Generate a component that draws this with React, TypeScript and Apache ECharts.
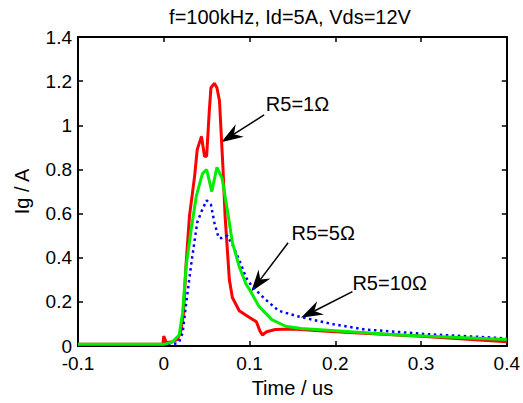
import React, { useEffect, useRef } from "react";
import * as echarts from "echarts";

// Time (us) vs Ig (A)
const seriesR1: [number, number][] = [
  [-0.1, 0.008], [-0.001, 0.008], [0.0, 0.045], [0.003, 0.015], [0.01, 0.02],
  [0.016, 0.03], [0.02, 0.07], [0.023, 0.15], [0.026, 0.37], [0.03, 0.59],
  [0.036, 0.77], [0.039, 0.89], [0.044, 0.95], [0.0475, 0.86], [0.05, 0.86],
  [0.053, 1.06], [0.055, 1.17], [0.059, 1.19], [0.062, 1.17], [0.065, 1.11],
  [0.067, 0.96], [0.069, 0.81], [0.0715, 0.59], [0.0765, 0.3], [0.08, 0.22],
  [0.088, 0.16], [0.1, 0.13], [0.108, 0.11], [0.112, 0.07], [0.115, 0.05],
  [0.12, 0.065], [0.13, 0.075], [0.15, 0.078], [0.2, 0.065], [0.3, 0.045],
  [0.4, 0.02],
];

const seriesR5: [number, number][] = [
  [-0.1, 0.008], [0.0, 0.008], [0.01, 0.018], [0.018, 0.05], [0.022, 0.15],
  [0.026, 0.36], [0.032, 0.53], [0.038, 0.68], [0.045, 0.78], [0.05, 0.8],
  [0.056, 0.7], [0.062, 0.81], [0.068, 0.76], [0.074, 0.62], [0.08, 0.47],
  [0.088, 0.36], [0.096, 0.28], [0.101, 0.25], [0.111, 0.18], [0.126, 0.12],
  [0.142, 0.09], [0.16, 0.08], [0.2, 0.07], [0.274, 0.05], [0.4, 0.03],
];

const seriesR10: [number, number][] = [
  [-0.1, 0.008], [0.0, 0.008], [0.015, 0.012], [0.018, 0.02], [0.022, 0.06],
  [0.026, 0.19], [0.032, 0.37], [0.039, 0.56], [0.044, 0.61], [0.05, 0.66],
  [0.055, 0.64], [0.059, 0.56], [0.064, 0.49], [0.068, 0.49], [0.074, 0.5],
  [0.08, 0.46], [0.088, 0.39], [0.096, 0.31], [0.103, 0.27], [0.119, 0.21],
  [0.134, 0.16], [0.156, 0.135], [0.196, 0.1], [0.235, 0.075], [0.312, 0.053],
  [0.4, 0.035],
];

const annLabels = ["R5=1Ω", "R5=5Ω", "R5=10Ω"];
const annTextAt: [number, number][] = [[0.119, 1.096], [0.149, 0.512], [0.22, 0.287]];
const annFrom: [number, number][] = [[0.117, 1.047], [0.145, 0.468], [0.22, 0.247]];
const annTo: [number, number][] = [[0.067, 0.923], [0.102, 0.247], [0.16, 0.128]];

const titleText = "f=100kHz, Id=5A, Vds=12V";
const xName = "Time / us";
const yName = "Ig / A";

const FONT = '"Liberation Sans", Arial, sans-serif';

export default function App() {
  const ref = useRef<HTMLDivElement>(null);
  useEffect(() => {
    if (!ref.current) return;
    const chart = echarts.init(ref.current, undefined, { renderer: "svg" });
    const axisLine = { show: true, onZero: false, lineStyle: { color: "#000", width: 2 } };
    const tick = { show: true, inside: true, length: 5, lineStyle: { color: "#000", width: 1.5 } };
    const xBase = { type: "value" as const, min: -0.1, max: 0.4, interval: 0.1, splitLine: { show: false } };
    const yBase = { type: "value" as const, min: 0, max: 1.4, interval: 0.2, splitLine: { show: false } };
    chart.setOption({
      animation: false,
      backgroundColor: "#fff",
      grid: { left: 78, right: 14, top: 37, bottom: 49 },
      xAxis: [
        {
          ...xBase,
          position: "bottom",
          axisLine,
          axisTick: tick,
          axisLabel: { color: "#000", fontSize: 19, fontFamily: FONT, margin: 8 },
          name: xName,
          nameLocation: "middle",
          nameGap: 29,
          nameTextStyle: { color: "#000", fontSize: 20, fontFamily: FONT },
        },
        { ...xBase, position: "top", axisLine, axisTick: tick, axisLabel: { show: false } },
      ],
      yAxis: [
        {
          ...yBase,
          position: "left",
          axisLine,
          axisTick: tick,
          axisLabel: { color: "#000", fontSize: 19, fontFamily: FONT, margin: 6 },
          name: yName,
          nameLocation: "middle",
          nameGap: 46,
          nameTextStyle: { color: "#000", fontSize: 20, fontFamily: FONT },
        },
        { ...yBase, position: "right", axisLine, axisTick: tick, axisLabel: { show: false } },
      ],
      series: [
        {
          type: "line", data: seriesR1, showSymbol: false, symbol: "none",
          lineStyle: { color: "#ff0000", width: 3 }, z: 2,
        },
        {
          type: "line", data: seriesR10, showSymbol: false, symbol: "none",
          lineStyle: { color: "#0000ff", width: 2.5, type: [2.5, 3.5] }, z: 3,
        },
        {
          type: "line", data: seriesR5, showSymbol: false, symbol: "none",
          lineStyle: { color: "#00ee00", width: 3 }, z: 4,
        },
      ],
    });

    const px = (p: [number, number]) => chart.convertToPixel({ xAxisIndex: 0, yAxisIndex: 0 }, p) as number[];
    const elements: any[] = [
      {
        type: "text", x: 290, y: 17,
        style: { text: titleText, font: `20px ${FONT}`, fill: "#000", align: "center", verticalAlign: "middle" },
      },
    ];
    annLabels.forEach((lab, i) => {
      const t = px(annTextAt[i]);
      const a = px(annFrom[i]);
      const b = px(annTo[i]);
      const dx = b[0] - a[0], dy = b[1] - a[1];
      const len = Math.hypot(dx, dy);
      const ux = dx / len, uy = dy / len;
      const nx = -uy, ny = ux;
      const L = 22, W = 7.5, notch = 15;
      const back = [b[0] - ux * L, b[1] - uy * L];
      const nb = [b[0] - ux * notch, b[1] - uy * notch];
      elements.push({
        type: "line",
        shape: { x1: a[0], y1: a[1], x2: nb[0], y2: nb[1] },
        style: { stroke: "#000", lineWidth: 1.5 },
      });
      elements.push({
        type: "polygon",
        shape: {
          points: [
            [b[0], b[1]],
            [back[0] + nx * W, back[1] + ny * W],
            [nb[0], nb[1]],
            [back[0] - nx * W, back[1] - ny * W],
          ],
        },
        style: { fill: "#000" },
      });
      elements.push({
        type: "text", x: t[0], y: t[1],
        style: { text: lab, font: `20px ${FONT}`, fill: "#000", align: "left", verticalAlign: "middle" },
      });
    });
    chart.setOption({ graphic: elements });
    return () => chart.dispose();
  }, []);
  return (
    <div
      ref={ref}
      style={{ position: "absolute", left: 0, top: 0, width: 523, height: 403 }}
    />
  );
}
